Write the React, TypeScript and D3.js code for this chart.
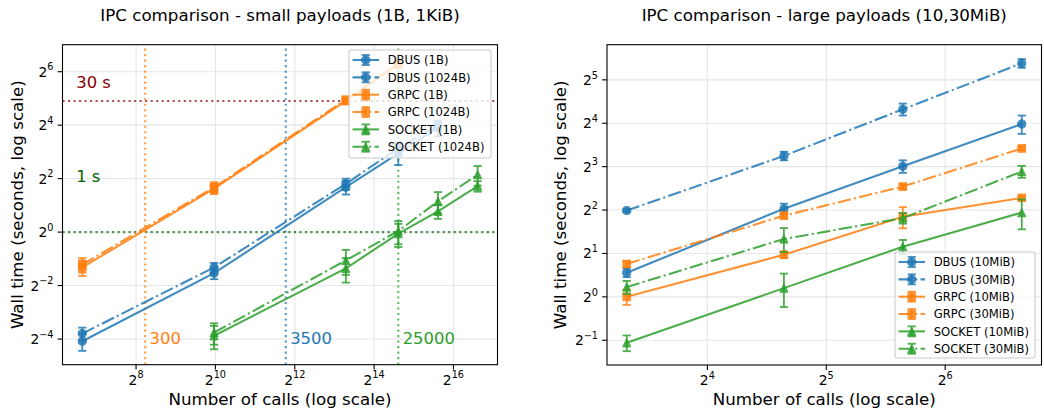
import React from 'react';
import * as d3 from 'd3';

const FONT = '"DejaVu Sans", sans-serif';
const BLUE = '#1f77b4';
const ORANGE = '#ff7f0e';
const GREEN = '#2ca02c';
const LW = 2.08;
const DASHDOT = '13.3,3.3,2.1,3.3';
const DOTTED = '2.08,3.43';

// --- small payloads (1B, 1KiB) ---
const dbusCallsSmall = [100, 1000, 10000, 25000, 50000];
const grpcCallsSmall = [100, 1000, 10000, 25000];
const socketCallsSmall = [1000, 10000, 25000, 50000, 100000];

const dbus1B = [0.059, 0.345, 3.2, 7.7, 15];
const dbus1BErr = [0.013, 0.05, 0.55, 2.0, 3];
const dbus1024B = [0.072, 0.4, 3.5, 8.8, 16];
const dbus1024BErr = [0.012, 0.05, 0.5, 1.5, 2];
const grpc1B = [0.4, 3.08, 30, 78];
const grpc1BErr = [0.08, 0.4, 2.5, 8];
const grpc1024B = [0.43, 3.2, 31, 80];
const grpc1024BErr = [0.08, 0.45, 2, 6];
const socket1B = [0.068, 0.39, 0.96, 1.71, 3.3];
const socket1BErr = [0.02, 0.12, 0.28, 0.3, 0.45];
const socket1024B = [0.074, 0.48, 1.03, 2.22, 4.44];
const socket1024BErr = [0.02, 0.15, 0.3, 0.6, 1.1];

// thresholds / crossing points
const thresholdSeconds = [30, 1];
const thresholdLabels = ['30 s', '1 s'];
const thresholdLabelY = [41.9, 3.66];
const thresholdColors = ['#8b0000', '#006400'];
const crossingCalls = [300, 3500, 25000];
const crossingColors = [ORANGE, BLUE, GREEN];

// --- large payloads (10, 30MiB) ---
const callsLarge = [10, 25, 50, 100];
const dbus10 = [1.47, 4.08, 8.05, 15.8];
const dbus10Err = [0.1, 0.35, 0.8, 2.3];
const dbus30 = [3.97, 9.5, 20, 41.7];
const dbus30Err = [0.1, 0.65, 1.9, 2.9];
const grpc10 = [1.0, 1.96, 3.59, 4.86];
const grpc10Err = [0.12, 0.1, 0.6, 0.15];
const grpc30 = [1.69, 3.66, 5.82, 10.7];
const grpc30Err = [0.08, 0.15, 0.2, 0.3];
const socket10 = [0.48, 1.15, 2.23, 3.84];
const socket10Err = [0.06, 0.3, 0.25, 0.9];
const socket30 = [1.17, 2.52, 3.52, 7.4];
const socket30Err = [0.12, 0.48, 0.3, 0.7];

// tick exponents (base 2)
const leftXTicks = [8, 10, 12, 14, 16];
const leftYTicks = [-4, -2, 0, 2, 4, 6];
const rightXTicks = [4, 5, 6];
const rightYTicks = [-1, 0, 1, 2, 3, 4, 5];

type Shape = 'o' | 's' | '^';
interface Series {
  label: string;
  color: string;
  shape: Shape;
  dash?: string;
  x: number[];
  y: number[];
  err: number[];
}

const smallSeries: Series[] = [
  { label: 'DBUS (1B)', color: BLUE, shape: 'o', x: dbusCallsSmall, y: dbus1B, err: dbus1BErr },
  { label: 'DBUS (1024B)', color: BLUE, shape: 'o', dash: DASHDOT, x: dbusCallsSmall, y: dbus1024B, err: dbus1024BErr },
  { label: 'GRPC (1B)', color: ORANGE, shape: 's', x: grpcCallsSmall, y: grpc1B, err: grpc1BErr },
  { label: 'GRPC (1024B)', color: ORANGE, shape: 's', dash: DASHDOT, x: grpcCallsSmall, y: grpc1024B, err: grpc1024BErr },
  { label: 'SOCKET (1B)', color: GREEN, shape: '^', x: socketCallsSmall, y: socket1B, err: socket1BErr },
  { label: 'SOCKET (1024B)', color: GREEN, shape: '^', dash: DASHDOT, x: socketCallsSmall, y: socket1024B, err: socket1024BErr },
];

const largeSeries: Series[] = [
  { label: 'DBUS (10MiB)', color: BLUE, shape: 'o', x: callsLarge, y: dbus10, err: dbus10Err },
  { label: 'DBUS (30MiB)', color: BLUE, shape: 'o', dash: DASHDOT, x: callsLarge, y: dbus30, err: dbus30Err },
  { label: 'GRPC (10MiB)', color: ORANGE, shape: 's', x: callsLarge, y: grpc10, err: grpc10Err },
  { label: 'GRPC (30MiB)', color: ORANGE, shape: 's', dash: DASHDOT, x: callsLarge, y: grpc30, err: grpc30Err },
  { label: 'SOCKET (10MiB)', color: GREEN, shape: '^', x: callsLarge, y: socket10, err: socket10Err },
  { label: 'SOCKET (30MiB)', color: GREEN, shape: '^', dash: DASHDOT, x: callsLarge, y: socket30, err: socket30Err },
];

const ALPHA = 0.85;
const CAP = 4.1;

function Marker({ shape, cx, cy, color }: { shape: Shape; cx: number; cy: number; color: string }) {
  const r = 4.1;
  if (shape === 'o') {
    return <circle cx={cx} cy={cy} r={r} fill={color} stroke={color} strokeWidth={1} opacity={ALPHA} />;
  }
  if (shape === 's') {
    return <rect x={cx - 3.8} y={cy - 3.8} width={7.6} height={7.6} fill={color} stroke={color} strokeWidth={1} opacity={ALPHA} />;
  }
  const pts = `${cx},${cy - r} ${cx - r},${cy + r} ${cx + r},${cy + r}`;
  return <polygon points={pts} fill={color} stroke={color} strokeWidth={1} opacity={ALPHA} />;
}

function Pow2({ x, y, exp, anchor }: { x: number; y: number; exp: number; anchor: 'middle' | 'end' }) {
  const e = exp < 0 ? `\u2212${-exp}` : `${exp}`;
  return (
    <text x={x} y={y} textAnchor={anchor} fontSize={13.9} fontFamily={FONT} fill="#000">
      2<tspan dy={-6.3} fontSize={9.7}>{e}</tspan>
    </text>
  );
}

interface PanelProps {
  box: { left: number; right: number; top: number; bottom: number };
  xDomain: [number, number]; // log2
  yDomain: [number, number]; // log2
  xTicks: number[];
  yTicks: number[];
  series: Series[];
  title: string;
  ylabelX: number;
  legend: { x: number; y: number; w: number; h: number };
  extras?: (x: d3.ScaleLogarithmic<number, number>, y: d3.ScaleLogarithmic<number, number>) => React.ReactNode;
}

function Panel({ box, xDomain, yDomain, xTicks, yTicks, series, title, ylabelX, legend, extras }: PanelProps) {
  const x = d3.scaleLog().base(2).domain([2 ** xDomain[0], 2 ** xDomain[1]]).range([box.left, box.right]);
  const y = d3.scaleLog().base(2).domain([2 ** yDomain[0], 2 ** yDomain[1]]).range([box.bottom, box.top]);
  const line = d3.line<[number, number]>().x(d => x(d[0])).y(d => y(d[1]));
  const clipId = `clip-${Math.round(box.left)}`;
  const cx = (box.left + box.right) / 2;
  const cy = (box.top + box.bottom) / 2;

  return (
    <g>
      <defs>
        <clipPath id={clipId}>
          <rect x={box.left} y={box.top} width={box.right - box.left} height={box.bottom - box.top} />
        </clipPath>
      </defs>
      {/* grid */}
      {xTicks.map(t => (
        <line key={'gx' + t} x1={x(2 ** t)} x2={x(2 ** t)} y1={box.top} y2={box.bottom} stroke="#e6e6e6" strokeWidth={1.1} />
      ))}
      {yTicks.map(t => (
        <line key={'gy' + t} x1={box.left} x2={box.right} y1={y(2 ** t)} y2={y(2 ** t)} stroke="#e6e6e6" strokeWidth={1.1} />
      ))}

      <g clipPath={`url(#${clipId})`}>
        {extras && extras(x, y)}
        {series.map(s => {
          const pts = s.x.map((v, i) => [v, s.y[i]] as [number, number]);
          return (
            <g key={s.label}>
              <path d={line(pts) || ''} fill="none" stroke={s.color} strokeWidth={LW} strokeDasharray={s.dash} opacity={ALPHA} />
              {pts.map((p, i) => {
                const px = x(p[0]);
                const y1 = y(p[1] + s.err[i]);
                const y2 = y(Math.max(p[1] - s.err[i], 1e-6));
                return (
                  <g key={i} stroke={s.color} strokeWidth={1.8} opacity={ALPHA}>
                    <line x1={px} x2={px} y1={y1} y2={y2} />
                    <line x1={px - CAP} x2={px + CAP} y1={y1} y2={y1} />
                    <line x1={px - CAP} x2={px + CAP} y1={y2} y2={y2} />
                  </g>
                );
              })}
              {pts.map((p, i) => (
                <Marker key={'m' + i} shape={s.shape} cx={x(p[0])} cy={y(p[1])} color={s.color} />
              ))}
            </g>
          );
        })}
      </g>

      {/* frame */}
      <rect x={box.left} y={box.top} width={box.right - box.left} height={box.bottom - box.top} fill="none" stroke="#000" strokeWidth={1.1} />

      {/* ticks */}
      {xTicks.map(t => (
        <g key={'tx' + t}>
          <line x1={x(2 ** t)} x2={x(2 ** t)} y1={box.bottom} y2={box.bottom + 4.9} stroke="#000" strokeWidth={1.1} />
          <Pow2 x={x(2 ** t)} y={box.bottom + 19.8} exp={t} anchor="middle" />
        </g>
      ))}
      {yTicks.map(t => (
        <g key={'ty' + t}>
          <line x1={box.left - 4.9} x2={box.left} y1={y(2 ** t)} y2={y(2 ** t)} stroke="#000" strokeWidth={1.1} />
          <Pow2 x={box.left - 9} y={y(2 ** t) + 5} exp={t} anchor="end" />
        </g>
      ))}

      {/* labels */}
      <text x={cx} y={20.5} textAnchor="middle" fontSize={16.7} fontFamily={FONT}>{title}</text>
      <text x={cx} y={405} textAnchor="middle" fontSize={16.7} fontFamily={FONT}>Number of calls (log scale)</text>
      <text transform={`translate(${ylabelX},${cy}) rotate(-90)`} textAnchor="middle" fontSize={16.7} fontFamily={FONT}>
        Wall time (seconds, log scale)
      </text>

      {/* legend */}
      <g>
        <rect x={legend.x} y={legend.y} width={legend.w} height={legend.h} rx={2.5} fill="#fff" fillOpacity={0.8} stroke="#cccccc" strokeWidth={1.1} />
        {series.map((s, i) => {
          const ry = legend.y + 10 + i * 17.35;
          const hx0 = legend.x + 3.5;
          const hx1 = hx0 + 26.5;
          const hm = (hx0 + hx1) / 2;
          return (
            <g key={'lg' + s.label}>
              <line x1={hx0} x2={hx1} y1={ry} y2={ry} stroke={s.color} strokeWidth={LW} strokeDasharray={s.dash} opacity={ALPHA} />
              <g stroke={s.color} strokeWidth={1.8} opacity={ALPHA}>
                <line x1={hm} x2={hm} y1={ry - 5} y2={ry + 5} />
                <line x1={hm - CAP} x2={hm + CAP} y1={ry - 5} y2={ry - 5} />
                <line x1={hm - CAP} x2={hm + CAP} y1={ry + 5} y2={ry + 5} />
              </g>
              <Marker shape={s.shape} cx={hm} cy={ry} color={s.color} />
              <text x={legend.x + 38.7} y={ry + 4.2} fontSize={11.6} fontFamily={FONT}>{s.label}</text>
            </g>
          );
        })}
      </g>
    </g>
  );
}

export default function App() {
  const leftExtras = (x: d3.ScaleLogarithmic<number, number>, y: d3.ScaleLogarithmic<number, number>) => {
    const [x0, x1] = x.range();
    const [yb, yt] = y.range();
    return (
      <g>
        {thresholdSeconds.map((s, i) => (
          <g key={'th' + s}>
            <line x1={x0} x2={x1} y1={y(s)} y2={y(s)} stroke={thresholdColors[i]} strokeWidth={LW} strokeDasharray={DOTTED} opacity={0.7} />
            <text x={x(90)} y={y(thresholdLabelY[i])} fontSize={16.4} fontFamily={FONT} fill={thresholdColors[i]}>
              {thresholdLabels[i]}
            </text>
          </g>
        ))}
        {crossingCalls.map((c, i) => (
          <g key={'cr' + c}>
            <line x1={x(c)} x2={x(c)} y1={yb} y2={yt} stroke={crossingColors[i]} strokeWidth={LW} strokeDasharray={DOTTED} opacity={0.75} />
            <text x={x(c * 1.08)} y={y(0.055)} fontSize={16.4} fontFamily={FONT} fill={crossingColors[i]}>
              {c}
            </text>
          </g>
        ))}
      </g>
    );
  };

  return (
    <svg width={1044} height={414} style={{ position: 'absolute', left: 0, top: 0, background: '#fff' }}>
      <rect width={1044} height={414} fill="#fff" />
      <Panel
        box={{ left: 62.5, right: 497.5, top: 44.7, bottom: 364.7 }}
        xDomain={[6.146, 17.11]}
        yDomain={[-4.96, 7.01]}
        xTicks={leftXTicks}
        yTicks={leftYTicks}
        series={smallSeries}
        title="IPC comparison - small payloads (1B, 1KiB)"
        ylabelX={22.5}
        legend={{ x: 349, y: 50, w: 142, h: 108 }}
        extras={leftExtras}
      />
      <Panel
        box={{ left: 607, right: 1041.5, top: 44.7, bottom: 365 }}
        xDomain={[3.156, 6.81]}
        yDomain={[-1.57, 5.81]}
        xTicks={rightXTicks}
        yTicks={rightYTicks}
        series={largeSeries}
        title="IPC comparison - large payloads (10,30MiB)"
        ylabelX={566}
        legend={{ x: 895, y: 252, w: 140, h: 106 }}
      />
    </svg>
  );
}
